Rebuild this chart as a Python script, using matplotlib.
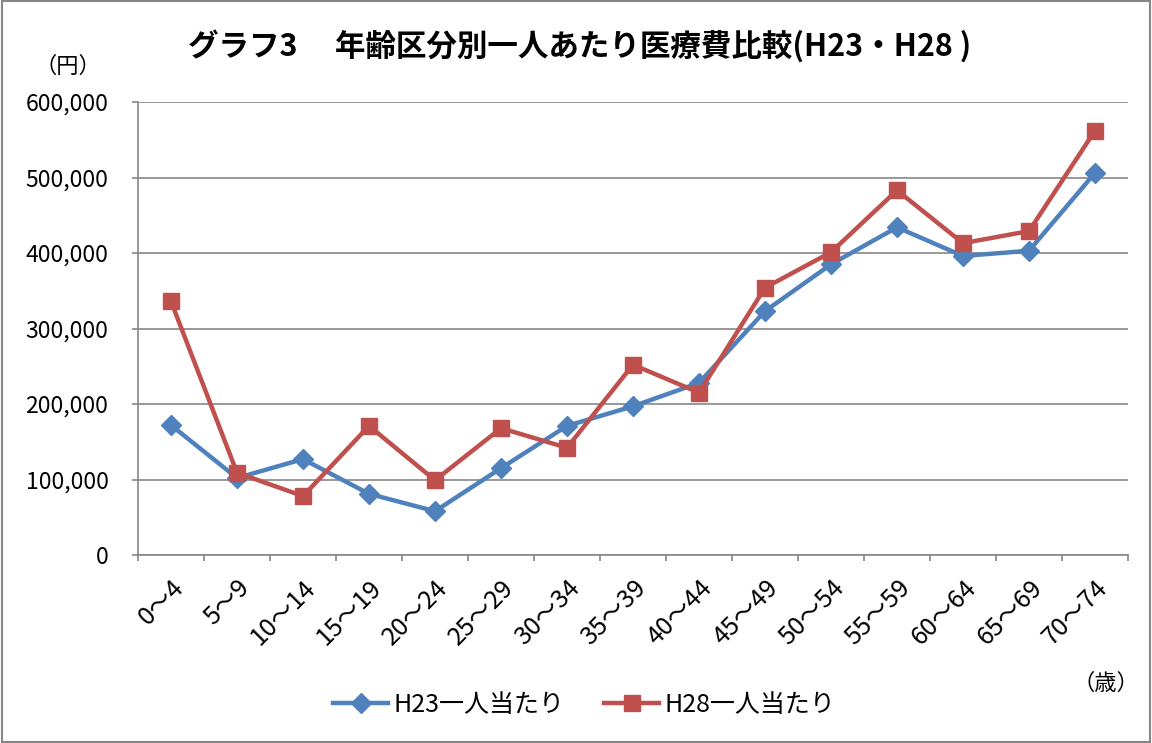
import numpy as np
import matplotlib.pyplot as plt
from matplotlib.patches import Rectangle

plt.rcParams['font.family'] = ['Noto Sans CJK JP', 'DejaVu Sans']

ages = ['0～4', '5～9', '10～14', '15～19', '20～24', '25～29', '30～34', '35～39',
        '40～44', '45～49', '50～54', '55～59', '60～64', '65～69', '70～74']
h23 = [172000, 102000, 127000, 81000, 58000, 115000, 171000, 197000,
       228000, 323000, 385000, 434000, 396000, 403000, 506000]
h28 = [336000, 109000, 78000, 171000, 99000, 168000, 142000, 252000,
       215000, 354000, 401000, 483000, 413000, 429000, 562000]
yticks = [0, 100000, 200000, 300000, 400000, 500000, 600000]

fig = plt.figure(figsize=(11.52, 7.43), dpi=100)
ax = fig.add_axes([138/1152, 1-555/743, (1128-138)/1152, (555-102)/743])

x = np.arange(len(ages))
ax.plot(x, h23, color='#4F81BD', lw=3.2, marker='D', ms=10, label='H23一人当たり', zorder=3)
ax.plot(x, h28, color='#C0504D', lw=3.2, marker='s', ms=12, label='H28一人当たり', zorder=4)

ax.set_xlim(-0.5, len(ages) - 0.5)
ax.set_ylim(0, 600000)
ax.set_yticks(yticks)
ax.set_yticklabels(['{:,}'.format(v) for v in yticks], fontsize=16.5)
ax.yaxis.grid(True, color='#868686', lw=1.2)
ax.set_axisbelow(True)

# ticks sit between categories, labels at the centres
ax.set_xticks(np.arange(len(ages) + 1) - 0.5)
ax.set_xticklabels([])
ax.set_xticks(x, minor=True)
ax.set_xticklabels(ages, minor=True, rotation=45, ha='right', va='top',
                   rotation_mode='anchor', fontsize=18)
ax.tick_params(axis='x', which='minor', length=0, pad=14)
ax.tick_params(axis='x', which='major', length=4.3, color='#868686', width=1.2)
ax.tick_params(axis='y', length=4.3, color='#868686', width=1.2, pad=17)

for s in ['top', 'right']:
    ax.spines[s].set_visible(False)
for s in ['left', 'bottom']:
    ax.spines[s].set_color('#868686')
    ax.spines[s].set_linewidth(1.2)

fig.text(580/1152, 1-46/743, 'グラフ3　 年齢区分別一人あたり医療費比較(H23・H28 )',
         ha='center', va='center', fontsize=22, fontweight='bold')
fig.text(68/1152, 1-66/743, '（円）', ha='center', va='center', fontsize=16)
fig.text(1106/1152, 1-683/743, '（歳）', ha='center', va='center', fontsize=16)

fig.legend(loc='center', bbox_to_anchor=(584/1152, 1-705/743), ncol=2,
           frameon=False, fontsize=18, handlelength=2.2, handletextpad=0.2,
           columnspacing=1.6)

fig.patches.append(Rectangle((0.002, 0.002), 0.996, 0.996, transform=fig.transFigure,
                             fill=False, edgecolor='#868686', lw=1.5))

fig.savefig('out.png', dpi=100)
